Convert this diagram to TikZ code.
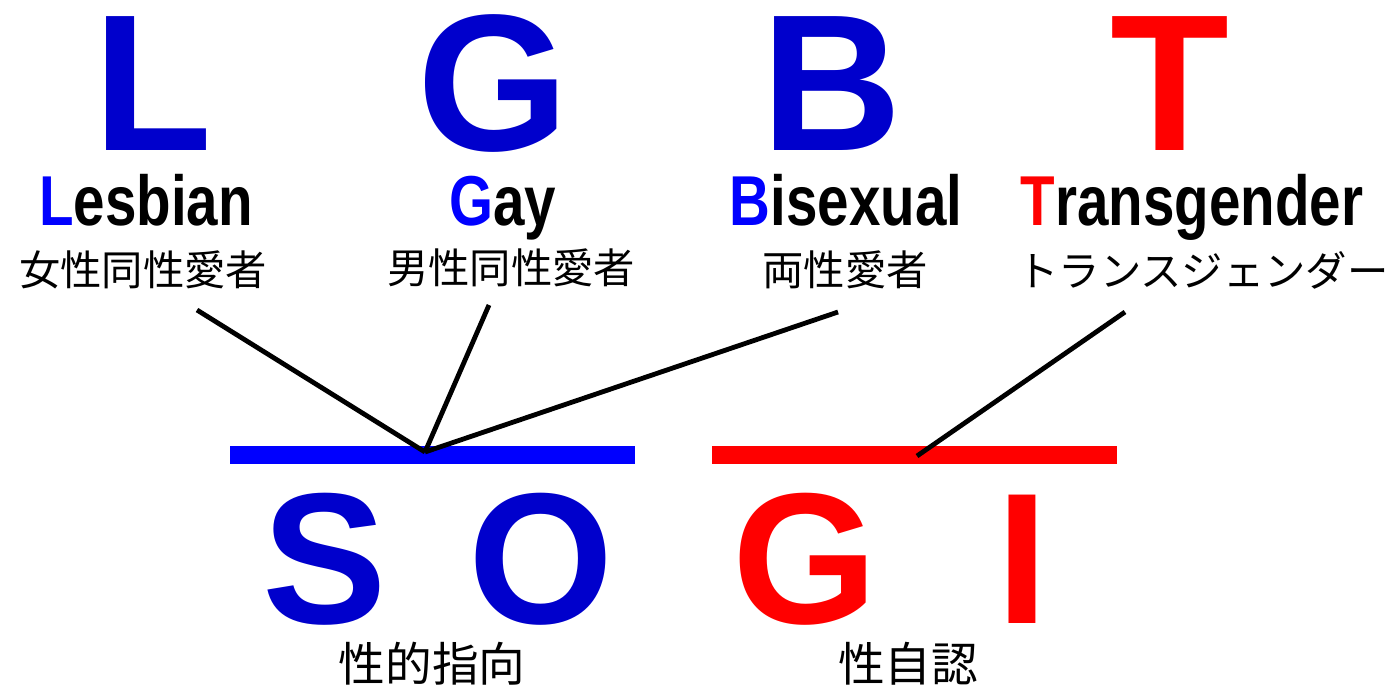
\documentclass[tikz,border=0pt]{standalone}
\usepackage{fontspec}
\setmainfont{Liberation Sans}
\newfontfamily\narrowfont[FakeStretch=0.8]{Liberation Sans}
\newfontfamily\jpfont{Noto Sans CJK JP}
\definecolor{darkblue}{RGB}{0,0,204}
\definecolor{pureblue}{RGB}{0,0,255}
\definecolor{purered}{RGB}{255,0,0}
\tikzset{
  bigletter/.style={font=\fontsize{146}{146}\selectfont\bfseries, inner sep=0pt, anchor=base},
  lowletter/.style={font=\fontsize{140}{140}\selectfont\bfseries, inner sep=0pt, anchor=base},
  word/.style={font=\narrowfont\fontsize{53}{53}\selectfont\bfseries, inner sep=0pt, anchor=base},
  jp/.style={font=\jpfont\fontsize{31}{31}\selectfont, inner sep=0pt},
  jpbig/.style={font=\jpfont\fontsize{35}{35}\selectfont, inner sep=0pt},
  link/.style={line width=3.6pt, black},
  bar/.style={inner sep=0pt, minimum width=303.75pt, minimum height=13.5pt}
}
\begin{document}
\begin{tikzpicture}[x=0.75pt,y=-0.75pt]
\useasboundingbox (0,0) rectangle (1394,690);
% big letters
\node[bigletter, text=darkblue] (L) at (153,150) {L};
\node[bigletter, text=darkblue] (G) at (493,150) {G};
\node[bigletter, text=darkblue] (B) at (832,150) {B};
\node[bigletter, text=purered] (T) at (1170,150) {T};
% words
\node[word] (lesbian) at (146,225) {\textcolor{pureblue}{L}esbian};
\node[word] (gay) at (503,225) {\textcolor{pureblue}{G}ay};
\node[word] (bisexual) at (846,225) {\textcolor{pureblue}{B}isexual};
\node[word] (transgender) at (1192,225) {\textcolor{purered}{T}ransgender};
% japanese
\node[jp] (jl) at (143,270) {女性同性愛者};
\node[jp] (jg) at (511,268) {男性同性愛者};
\node[jp] (jb) at (845,270) {両性愛者};
\node[jp] (jt) at (1203,270) {トランスジェンダー};
% bars
\node[bar, fill=pureblue] (sobar) at (432.5,455) {};
\node[bar, fill=purered] (gibar) at (914.5,455) {};
% link points
\coordinate (pl) at (197,310);
\coordinate (pg) at (489,305);
\coordinate (pb) at (838,312);
\coordinate (pt) at (1125,312);
\coordinate (so) at (425,452);
\coordinate (gi) at (917,456);
\draw[link] (pl) -- (so);
\draw[link] (pg) -- (so);
\draw[link] (pb) -- (so);
\draw[link] (pt) -- (gi);
% bottom letters
\node[lowletter, text=darkblue] (S) at (325,623) {S};
\node[lowletter, text=darkblue] (O) at (541,623) {O};
\node[lowletter, text=purered] (G2) at (805,623) {G};
\node[lowletter, text=purered] (I) at (1022,623) {I};
\node[jpbig] (jso) at (432,664) {性的指向};
\node[jpbig] (jgi) at (908,664) {性自認};
\end{tikzpicture}
\end{document}
